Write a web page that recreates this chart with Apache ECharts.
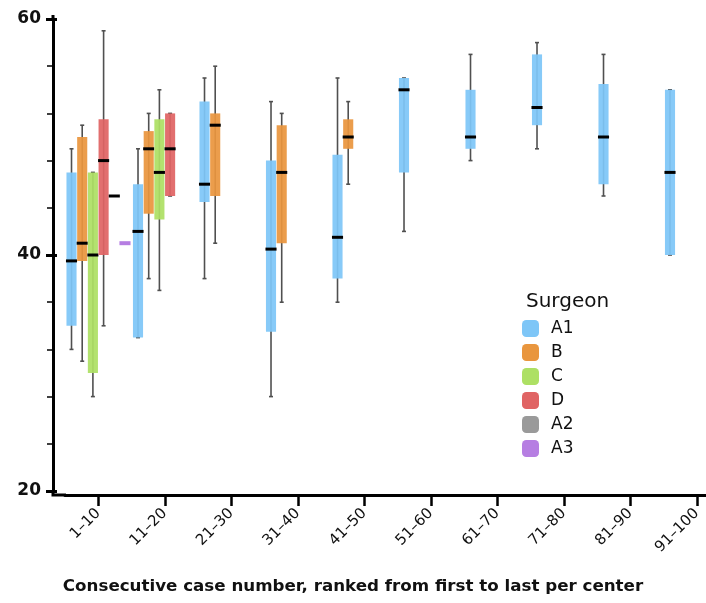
<!DOCTYPE html>
<html>
<head>
<meta charset="utf-8">
<script src="https://cdn.jsdelivr.net/npm/echarts@6/dist/echarts.min.js"></script>
<style>html,body{margin:0;padding:0;background:#fff;}#c{width:706px;height:603px;}</style>
</head>
<body>
<div id="c"></div>
<script>
// categories (case-number groups)
const categories = ['1–10','11–20','21–30','31–40','41–50','51–60','61–70','71–80','81–90','91–100'];
// surgeons
const surgeons = ['A1','B','C','D','A2','A3'];
// each entry: [min, Q1, median, Q3, max] per category (null = no cases)
const dataA1 = [
  [32, 34, 39.5, 47, 49],
  [33, 33, 42, 46, 49],
  [38, 44.5, 46, 53, 55],
  [28, 33.5, 40.5, 48, 53],
  [36, 38, 41.5, 48.5, 55],
  [42, 47, 54, 55, 55],
  [48, 49, 50, 54, 57],
  [49, 51, 52.5, 57, 58],
  [45, 46, 50, 54.5, 57],
  [40, 40, 47, 54, 54]
];
const dataB = [
  [31, 39.5, 41, 50, 51],
  [38, 43.5, 49, 50.5, 52],
  [41, 45, 51, 52, 56],
  [36, 41, 47, 51, 52],
  [46, 49, 50, 51.5, 53],
  null, null, null, null, null
];
const dataC = [
  [28, 30, 40, 47, 47],
  [37, 43, 47, 51.5, 54],
  null, null, null, null, null, null, null, null
];
const dataD = [
  [34, 40, 48, 51.5, 59],
  [45, 45, 49, 52, 52],
  null, null, null, null, null, null, null, null
];
const dataA2 = [
  [45, 45, 45, 45, 45],
  null, null, null, null, null, null, null, null, null
];
const dataA3 = [
  [41, 41, 41, 41, 41],
  null, null, null, null, null, null, null, null, null
];
// y-axis ticks
const yMin = 20, yMax = 60, yMajor = 20, yMinorSplit = 5;

const allData = [dataA1, dataB, dataC, dataD, dataA2, dataA3];
const colors = ['#7ec6f7', '#e9963e', '#ade064', '#e06464', '#9a9a9a', '#b67ee2'];
const medianColors = ['#000', '#000', '#000', '#000', '#000', '#b67ee2'];

const GRID_LEFT = 65, GRID_RIGHT = -24, GRID_TOP = 19, GRID_BOTTOM = 112;
const Y_OFFSET = 12, X_OFFSET = 4;
const FONT = '"DejaVu Sans", sans-serif';

function toRows(arr) {
  const rows = [];
  arr.forEach((d, i) => { if (d) rows.push([i].concat(d)); });
  return rows;
}

function makeRender(idx) {
  return function (params, api) {
    const cat = api.value(0);
    const lo = api.value(1), q1 = api.value(2), med = api.value(3), q3 = api.value(4), hi = api.value(5);
    const band = api.size([1, 0])[0];
    const slot = band * 0.965 / surgeons.length;
    const cx = api.coord([cat, med])[0] + (idx - (surgeons.length - 1) / 2) * slot;
    const yLo = api.coord([cat, lo])[1];
    const yQ1 = api.coord([cat, q1])[1];
    const yMed = api.coord([cat, med])[1];
    const yQ3 = api.coord([cat, q3])[1];
    const yHi = api.coord([cat, hi])[1];
    const w = slot - 0.6;
    const capW = 4;
    const wStyle = { stroke: '#505050', lineWidth: 1.6 };
    const children = [];
    if (yLo - yHi > 0.5) {
      children.push({ type: 'line', shape: { x1: cx, y1: yHi, x2: cx, y2: yLo }, style: wStyle });
      children.push({ type: 'line', shape: { x1: cx - capW / 2, y1: yHi, x2: cx + capW / 2, y2: yHi }, style: wStyle });
      children.push({ type: 'line', shape: { x1: cx - capW / 2, y1: yLo, x2: cx + capW / 2, y2: yLo }, style: wStyle });
    }
    if (yQ1 - yQ3 > 0.5) {
      children.push({ type: 'rect', shape: { x: cx - w / 2, y: yQ3, width: w, height: yQ1 - yQ3 },
        style: { fill: colors[idx], opacity: 0.93 } });
    }
    const mW = idx === 5 ? 4 : 3;
    children.push({ type: 'line', shape: { x1: cx - w / 2 - 0.5, y1: yMed, x2: cx + w / 2 + 0.5, y2: yMed },
      style: { stroke: medianColors[idx], lineWidth: mW } });
    return { type: 'group', children: children };
  };
}

const chart = echarts.init(document.getElementById('c'), null, { renderer: 'canvas' });

const series = surgeons.map((name, i) => ({
  name: name,
  type: 'custom',
  renderItem: makeRender(i),
  itemStyle: { color: colors[i] },
  encode: { x: 0, y: [1, 2, 3, 4, 5] },
  data: toRows(allData[i]),
  xAxisIndex: 0,
  yAxisIndex: 0,
  clip: false
}));

const yCommon = {
  type: 'value', min: yMin, max: yMax, interval: yMajor,
  position: 'left', offset: Y_OFFSET, splitLine: { show: false }
};

const axisBottomY = 603 - GRID_BOTTOM;
const axisX = GRID_LEFT - Y_OFFSET;

chart.setOption({
  animation: false,
  backgroundColor: '#fff',
  title: [
    { text: 'Surgeon', left: 526, top: 292, padding: 0,
      textStyle: { fontFamily: FONT, fontSize: 20, fontWeight: 'normal', color: '#111' } },
    { text: 'Consecutive case number, ranked from first to last per center', left: 'center', top: 578, padding: 0,
      textStyle: { fontFamily: FONT, fontSize: 16.7, fontWeight: 'bold', color: '#111' } }
  ],
  legend: {
    data: surgeons,
    orient: 'vertical', left: 522, top: 320, padding: 0,
    icon: 'roundRect', itemWidth: 17, itemHeight: 17, itemGap: 7,
    textStyle: { fontFamily: FONT, fontSize: 17, color: '#111', padding: [0, 0, 0, 7] },
    selectedMode: false
  },
  grid: { left: GRID_LEFT, right: GRID_RIGHT, top: GRID_TOP, bottom: GRID_BOTTOM, outerBoundsMode: 'none', containLabel: false },
  xAxis: {
    type: 'category', data: categories, offset: X_OFFSET,
    axisLine: { show: true, lineStyle: { color: '#000', width: 3 } },
    axisTick: { show: true, interval: 0, alignWithLabel: true, length: 11, lineStyle: { color: '#000', width: 2.5 } },
    axisLabel: { show: true, rotate: 45, margin: 16, fontFamily: FONT, fontSize: 15, color: '#111', interval: 0 },
    splitLine: { show: false }
  },
  yAxis: [
    Object.assign({}, yCommon, {
      axisLine: { show: true, lineStyle: { color: '#000', width: 3 } },
      axisTick: { show: true, length: 7, lineStyle: { color: '#000', width: 3 } },
      minorTick: { show: true, splitNumber: yMinorSplit, length: 6, lineStyle: { color: '#000', width: 1.5 } },
      axisLabel: { margin: 12, fontFamily: FONT, fontSize: 17, fontWeight: 'bold', color: '#111' }
    }),
    Object.assign({}, yCommon, {
      axisLine: { show: false },
      axisTick: { show: true, inside: true, length: 4, lineStyle: { color: '#000', width: 3 } },
      axisLabel: { show: false }
    })
  ],
  graphic: [
    { type: 'polyline', silent: true,
      shape: { points: [[axisX, GRID_TOP - 4], [axisX, GRID_TOP]] },
      style: { stroke: '#000', lineWidth: 3, fill: null } },
    { type: 'polyline', silent: true,
      shape: { points: [[axisX, axisBottomY], [axisX, axisBottomY + X_OFFSET], [GRID_LEFT + 1, axisBottomY + X_OFFSET]] },
      style: { stroke: '#000', lineWidth: 3, fill: null } }
  ],
  series: series
});
</script>
</body>
</html>
